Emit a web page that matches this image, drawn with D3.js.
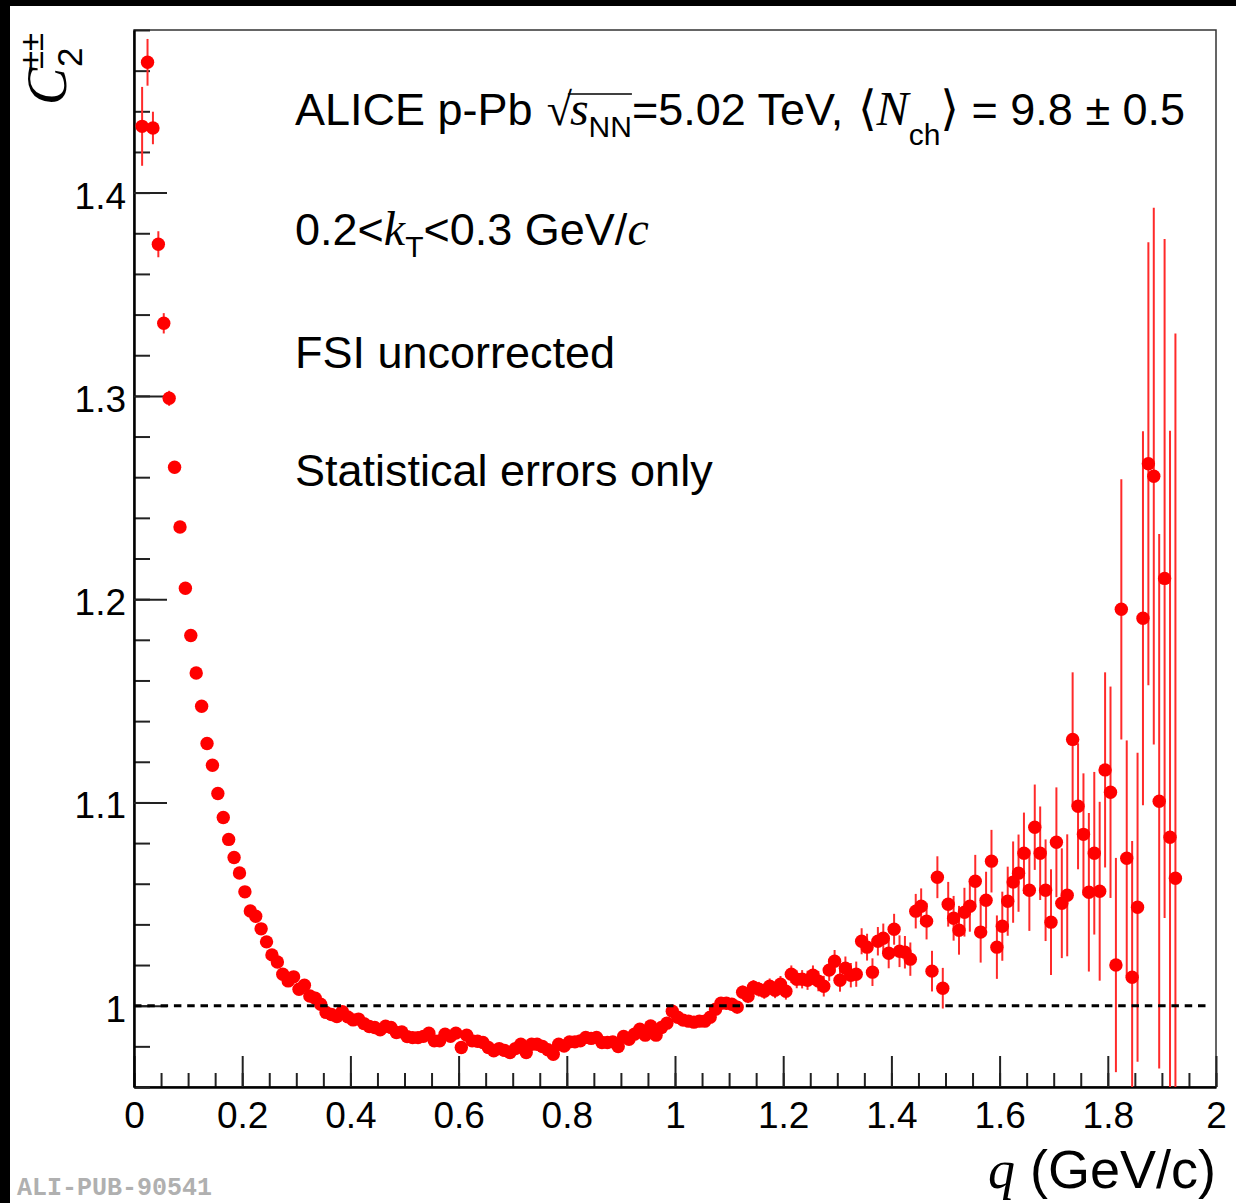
<!DOCTYPE html>
<html>
<head>
<meta charset="utf-8">
<script src="https://cdn.jsdelivr.net/npm/d3@7"></script>
<style>
  body { margin: 0; background: #fff; }
  svg { display: block; }
</style>
</head>
<body>
<script>
// q bin centres (GeV/c)
const qBins = [
  0.015, 0.025, 0.035, 0.045, 0.055, 0.065, 0.075, 0.085, 0.095, 0.105,
  0.115, 0.125, 0.135, 0.145, 0.155, 0.165, 0.175, 0.185, 0.195, 0.205,
  0.215, 0.225, 0.235, 0.245, 0.255, 0.265, 0.275, 0.285, 0.295, 0.305,
  0.315, 0.325, 0.335, 0.345, 0.355, 0.365, 0.375, 0.385, 0.395, 0.405,
  0.415, 0.425, 0.435, 0.445, 0.455, 0.465, 0.475, 0.485, 0.495, 0.505,
  0.515, 0.525, 0.535, 0.545, 0.555, 0.565, 0.575, 0.585, 0.595, 0.605,
  0.615, 0.625, 0.635, 0.645, 0.655, 0.665, 0.675, 0.685, 0.695, 0.705,
  0.715, 0.725, 0.735, 0.745, 0.755, 0.765, 0.775, 0.785, 0.795, 0.805,
  0.815, 0.825, 0.835, 0.845, 0.855, 0.865, 0.875, 0.885, 0.895, 0.905,
  0.915, 0.925, 0.935, 0.945, 0.955, 0.965, 0.975, 0.985, 0.995, 1.005,
  1.015, 1.025, 1.035, 1.045, 1.055, 1.065, 1.075, 1.085, 1.095, 1.105,
  1.115, 1.125, 1.135, 1.145, 1.155, 1.165, 1.175, 1.185, 1.195, 1.205,
  1.215, 1.225, 1.235, 1.245, 1.255, 1.265, 1.275, 1.285, 1.295, 1.305,
  1.315, 1.325, 1.335, 1.345, 1.355, 1.365, 1.375, 1.385, 1.395, 1.405,
  1.415, 1.425, 1.435, 1.445, 1.455, 1.465, 1.475, 1.485, 1.495, 1.505,
  1.515, 1.525, 1.535, 1.545, 1.555, 1.565, 1.575, 1.585, 1.595, 1.605,
  1.615, 1.625, 1.635, 1.645, 1.655, 1.665, 1.675, 1.685, 1.695, 1.705,
  1.715, 1.725, 1.735, 1.745, 1.755, 1.765, 1.775, 1.785, 1.795, 1.805,
  1.815, 1.825, 1.835, 1.845, 1.855, 1.865, 1.875, 1.885, 1.895, 1.905,
  1.915, 1.925
];

// C2 correlation values
const c2 = [
  1.4326, 1.4641, 1.4318, 1.3746, 1.3357, 1.2988, 1.2649, 1.2355, 1.2054, 1.1821,
  1.1637, 1.1473, 1.1290, 1.1183, 1.1044, 1.0926, 1.0818, 1.0729, 1.0653, 1.0560,
  1.0466, 1.0440, 1.0378, 1.0314, 1.0250, 1.0215, 1.0155, 1.0122, 1.0142, 1.0081,
  1.0101, 1.0048, 1.0037, 1.0007, 0.9967, 0.9957, 0.9947, 0.9971, 0.9945, 0.9930,
  0.9934, 0.9912, 0.9898, 0.9893, 0.9881, 0.9899, 0.9893, 0.9868, 0.9871, 0.9848,
  0.9843, 0.9843, 0.9849, 0.9865, 0.9827, 0.9827, 0.9860, 0.9849, 0.9865, 0.9794,
  0.9855, 0.9827, 0.9825, 0.9819, 0.9794, 0.9778, 0.9789, 0.9780, 0.9770, 0.9789,
  0.9810, 0.9770, 0.9810, 0.9810, 0.9799, 0.9783, 0.9761, 0.9810, 0.9802, 0.9822,
  0.9822, 0.9827, 0.9844, 0.9839, 0.9844, 0.9819, 0.9819, 0.9822, 0.9799, 0.9849,
  0.9835, 0.9860, 0.9884, 0.9855, 0.9900, 0.9855, 0.9893, 0.9914, 0.9973, 0.9943,
  0.9929, 0.9924, 0.9919, 0.9924, 0.9924, 0.9943, 0.9983, 1.0012, 1.0012, 1.0007,
  0.9993, 1.0066, 1.0047, 1.0091, 1.0081, 1.0071, 1.0096, 1.0076, 1.0106, 1.0071,
  1.0155, 1.0130, 1.0130, 1.0125, 1.0150, 1.0121, 1.0096, 1.0175, 1.0219, 1.0125,
  1.0184, 1.0150, 1.0155, 1.0317, 1.0288, 1.0165, 1.0317, 1.0332, 1.0258, 1.0376,
  1.0268, 1.0263, 1.0229, 1.0465, 1.0489, 1.0416, 1.0170, 1.0632, 1.0086, 1.0499,
  1.0430, 1.0371, 1.0460, 1.0489, 1.0612, 1.0362, 1.0519, 1.0711, 1.0288, 1.0391,
  1.0514, 1.0608, 1.0652, 1.0750, 1.0568, 1.0878, 1.0750, 1.0568, 1.0411, 1.0804,
  1.0504, 1.0543, 1.1310, 1.0981, 1.0843, 1.0558, 1.0750, 1.0563, 1.1160, 1.1050,
  1.0200, 1.1950, 1.0725, 1.0140, 1.0484, 1.1906, 1.2666, 1.2605, 1.1006, 1.2102,
  1.0829, 1.0627
];

// statistical errors
const c2Err = [
  0.0194, 0.0115, 0.0080, 0.0064, 0.0050, 0.0037, 0.0030, 0.0026, 0.0023, 0.0021,
  0.0020, 0.0019, 0.0019, 0.0018, 0.0018, 0.0017, 0.0017, 0.0017, 0.0016, 0.0016,
  0.0016, 0.0016, 0.0016, 0.0016, 0.0016, 0.0016, 0.0016, 0.0016, 0.0016, 0.0016,
  0.0016, 0.0016, 0.0016, 0.0016, 0.0016, 0.0016, 0.0016, 0.0016, 0.0016, 0.0016,
  0.0016, 0.0016, 0.0016, 0.0016, 0.0016, 0.0016, 0.0016, 0.0016, 0.0016, 0.0016,
  0.0016, 0.0016, 0.0016, 0.0016, 0.0016, 0.0016, 0.0017, 0.0017, 0.0017, 0.0017,
  0.0017, 0.0017, 0.0017, 0.0017, 0.0017, 0.0017, 0.0017, 0.0017, 0.0017, 0.0017,
  0.0017, 0.0017, 0.0018, 0.0018, 0.0018, 0.0018, 0.0018, 0.0018, 0.0018, 0.0018,
  0.0018, 0.0019, 0.0019, 0.0019, 0.0019, 0.0019, 0.0020, 0.0020, 0.0020, 0.0020,
  0.0021, 0.0021, 0.0021, 0.0022, 0.0022, 0.0022, 0.0023, 0.0023, 0.0024, 0.0024,
  0.0025, 0.0025, 0.0026, 0.0027, 0.0027, 0.0028, 0.0029, 0.0030, 0.0030, 0.0031,
  0.0032, 0.0033, 0.0034, 0.0035, 0.0036, 0.0037, 0.0038, 0.0039, 0.0040, 0.0041,
  0.0043, 0.0044, 0.0045, 0.0047, 0.0048, 0.0050, 0.0051, 0.0053, 0.0055, 0.0056,
  0.0058, 0.0060, 0.0062, 0.0064, 0.0066, 0.0068, 0.0070, 0.0072, 0.0074, 0.0076,
  0.0078, 0.0080, 0.0082, 0.0085, 0.0088, 0.0090, 0.0100, 0.0103, 0.0100, 0.0110,
  0.0110, 0.0120, 0.0120, 0.0125, 0.0130, 0.0150, 0.0140, 0.0154, 0.0156, 0.0170,
  0.0170, 0.0200, 0.0190, 0.0200, 0.0200, 0.0210, 0.0230, 0.0250, 0.0260, 0.0270,
  0.0270, 0.0300, 0.0330, 0.0310, 0.0300, 0.0390, 0.0400, 0.0440, 0.0480, 0.0520,
  0.0527, 0.0640, 0.0580, 0.0670, 0.0760, 0.0920, 0.1090, 0.1320, 0.1315, 0.1670,
  0.2000, 0.2680
];

const xMajorTicks = [0, 0.2, 0.4, 0.6, 0.8, 1, 1.2, 1.4, 1.6, 1.8, 2];
const yMajorTicks = [1, 1.1, 1.2, 1.3, 1.4];

const SANS = "'Liberation Sans', Arial, Helvetica, sans-serif";
const SERIF = "'Liberation Serif', 'DejaVu Serif', 'Times New Roman', serif";

const W = 1236, H = 1203;
const padL = 134, padR = 1216, padT = 30, padB = 1087;

const svg = d3.select("body").append("svg")
  .attr("width", W)
  .attr("height", H);

svg.append("rect").attr("width", W).attr("height", H).attr("fill", "#fff");
// black edges of the screenshot
svg.append("rect").attr("x", 0).attr("y", 0).attr("width", W).attr("height", 6).attr("fill", "#000");
svg.append("rect").attr("x", 0).attr("y", 0).attr("width", 10).attr("height", H).attr("fill", "#000");

const x = d3.scaleLinear().domain([0, 2]).range([padL, padR]);
const y = d3.scaleLinear().domain([0.96, 1.48]).range([padB, padT]);

svg.append("clipPath").attr("id", "plotclip")
  .append("rect")
  .attr("x", padL).attr("y", padT)
  .attr("width", padR - padL).attr("height", padB - padT);

// frame
svg.append("rect")
  .attr("x", padL).attr("y", padT)
  .attr("width", padR - padL).attr("height", padB - padT)
  .attr("fill", "none")
  .attr("stroke", "#333")
  .attr("stroke-width", 1.5);

// x axis: major + minor ticks drawn inwards
const xMinor = d3.range(0, 2.001, 0.05);
svg.append("g")
  .attr("transform", `translate(0,${padB})`)
  .call(d3.axisBottom(x).tickValues(xMinor).tickSizeInner(-14).tickSizeOuter(0).tickFormat(""))
  .call(g => g.select(".domain").remove())
  .call(g => g.selectAll("line").attr("stroke", "#222").attr("stroke-width", 2));

const xAxis = svg.append("g")
  .attr("transform", `translate(0,${padB})`)
  .call(d3.axisBottom(x).tickValues(xMajorTicks).tickSizeInner(-31).tickSizeOuter(0)
    .tickFormat(d3.format("~g")));
xAxis.select(".domain").attr("stroke", "#000").attr("stroke-width", 2.5);
xAxis.selectAll("line").attr("stroke", "#222").attr("stroke-width", 2);
xAxis.selectAll("text")
  .attr("y", 41)
  .attr("dy", 0)
  .attr("font-family", SANS)
  .attr("font-size", 37)
  .attr("fill", "#000");

// y axis
const yMinor = d3.range(0.96, 1.4801, 0.02);
svg.append("g")
  .attr("transform", `translate(${padL},0)`)
  .call(d3.axisLeft(y).tickValues(yMinor).tickSizeInner(-16).tickSizeOuter(0).tickFormat(""))
  .call(g => g.select(".domain").remove())
  .call(g => g.selectAll("line").attr("stroke", "#222").attr("stroke-width", 2));

const yAxis = svg.append("g")
  .attr("transform", `translate(${padL},0)`)
  .call(d3.axisLeft(y).tickValues(yMajorTicks).tickSizeInner(-33).tickSizeOuter(0)
    .tickFormat(d3.format("~g")));
yAxis.select(".domain").attr("stroke", "#000").attr("stroke-width", 2.5);
yAxis.selectAll("line").attr("stroke", "#222").attr("stroke-width", 2);
yAxis.selectAll("text")
  .attr("x", -8)
  .attr("dy", "0.42em")
  .attr("font-family", SANS)
  .attr("font-size", 37)
  .attr("fill", "#000");

// data
const points = qBins.map((q, i) => ({ q, v: c2[i], e: c2Err[i] }));
const plot = svg.append("g").attr("clip-path", "url(#plotclip)");

plot.selectAll("line.err").data(points).enter()
  .append("line")
  .attr("class", "err")
  .attr("x1", d => x(d.q)).attr("x2", d => x(d.q))
  .attr("y1", d => y(d.v - d.e)).attr("y2", d => y(d.v + d.e))
  .attr("stroke", "#ff2a2a")
  .attr("stroke-width", 2);

plot.selectAll("circle").data(points).enter()
  .append("circle")
  .attr("cx", d => x(d.q))
  .attr("cy", d => y(d.v))
  .attr("r", 6.7)
  .attr("fill", "#ff0000");

// reference line at C2 = 1
svg.append("line")
  .attr("x1", x(0)).attr("x2", x(1.986))
  .attr("y1", y(1)).attr("y2", y(1))
  .attr("stroke", "#000")
  .attr("stroke-width", 3)
  .attr("stroke-dasharray", "7.5,5.8");

// rich text helper: pieces laid out one after another
function richText(x0, y0, parts) {
  let cx = x0;
  parts.forEach(p => {
    const t = svg.append("text")
      .attr("x", cx)
      .attr("y", y0 + (p.dy || 0))
      .attr("font-family", p.serif ? SERIF : SANS)
      .attr("font-style", p.italic ? "italic" : "normal")
      .attr("font-size", p.size || 45)
      .attr("fill", "#000")
      .style("white-space", "pre")
      .text(p.t);
    p.x0 = cx;
    cx += t.node().getComputedTextLength() + (p.gap || 0);
    p.x1 = cx;
  });
  return parts;
}

const line1 = richText(295, 125, [
  { t: "ALICE p-Pb", gap: 14 },
  { t: "\u221A", serif: true, size: 46, gap: -2 },
  { t: "s", serif: true, italic: true, size: 48 },
  { t: "NN", size: 30, dy: 12 },
  { t: "=5.02 TeV, ", gap: 2 },
  { t: "\u27E8", serif: true, size: 48 },
  { t: "N", serif: true, italic: true, size: 48 },
  { t: "ch", size: 30, dy: 20 },
  { t: "\u27E9", serif: true, size: 48 },
  { t: " = 9.8 \u00B1 0.5" }
]);
// overline of the square root
svg.append("line")
  .attr("x1", line1[1].x1 - 2).attr("x2", line1[3].x1)
  .attr("y1", 94).attr("y2", 94)
  .attr("stroke", "#000").attr("stroke-width", 1.5);

richText(295, 245, [
  { t: "0.2<" },
  { t: "k", serif: true, italic: true, size: 48 },
  { t: "T", size: 30, dy: 12 },
  { t: "<0.3 GeV/" },
  { t: "c", serif: true, italic: true, size: 48 }
]);

richText(295, 368, [{ t: "FSI uncorrected" }]);
richText(295, 486, [{ t: "Statistical errors only" }]);

// y title: C_2^{±±}, rotated
const yTitle = svg.append("g").attr("transform", "translate(66,105) rotate(-90)");
yTitle.append("text")
  .attr("x", 0).attr("y", 0)
  .attr("font-family", SERIF).attr("font-style", "italic")
  .attr("font-size", 56).text("C");
yTitle.append("text")
  .attr("x", 36).attr("y", -23)
  .attr("font-family", SANS).attr("font-size", 33).text("\u00B1\u00B1");
yTitle.append("text")
  .attr("x", 38).attr("y", 16)
  .attr("font-family", SANS).attr("font-size", 35).text("2");

// x title
const xTitle = svg.append("text")
  .attr("x", padR).attr("y", 1188)
  .attr("text-anchor", "end")
  .attr("font-family", SANS)
  .attr("font-size", 54)
  .attr("fill", "#000");
xTitle.append("tspan").attr("font-family", SERIF).attr("font-style", "italic").text("q");
xTitle.append("tspan").text(" (GeV/c)");

// watermark
svg.append("text")
  .attr("x", 17).attr("y", 1195)
  .attr("font-family", "'Liberation Mono', 'DejaVu Sans Mono', monospace")
  .attr("font-weight", "bold")
  .attr("font-size", 25)
  .attr("fill", "#b0b0b0")
  .text("ALI-PUB-90541");
</script>
</body>
</html>
